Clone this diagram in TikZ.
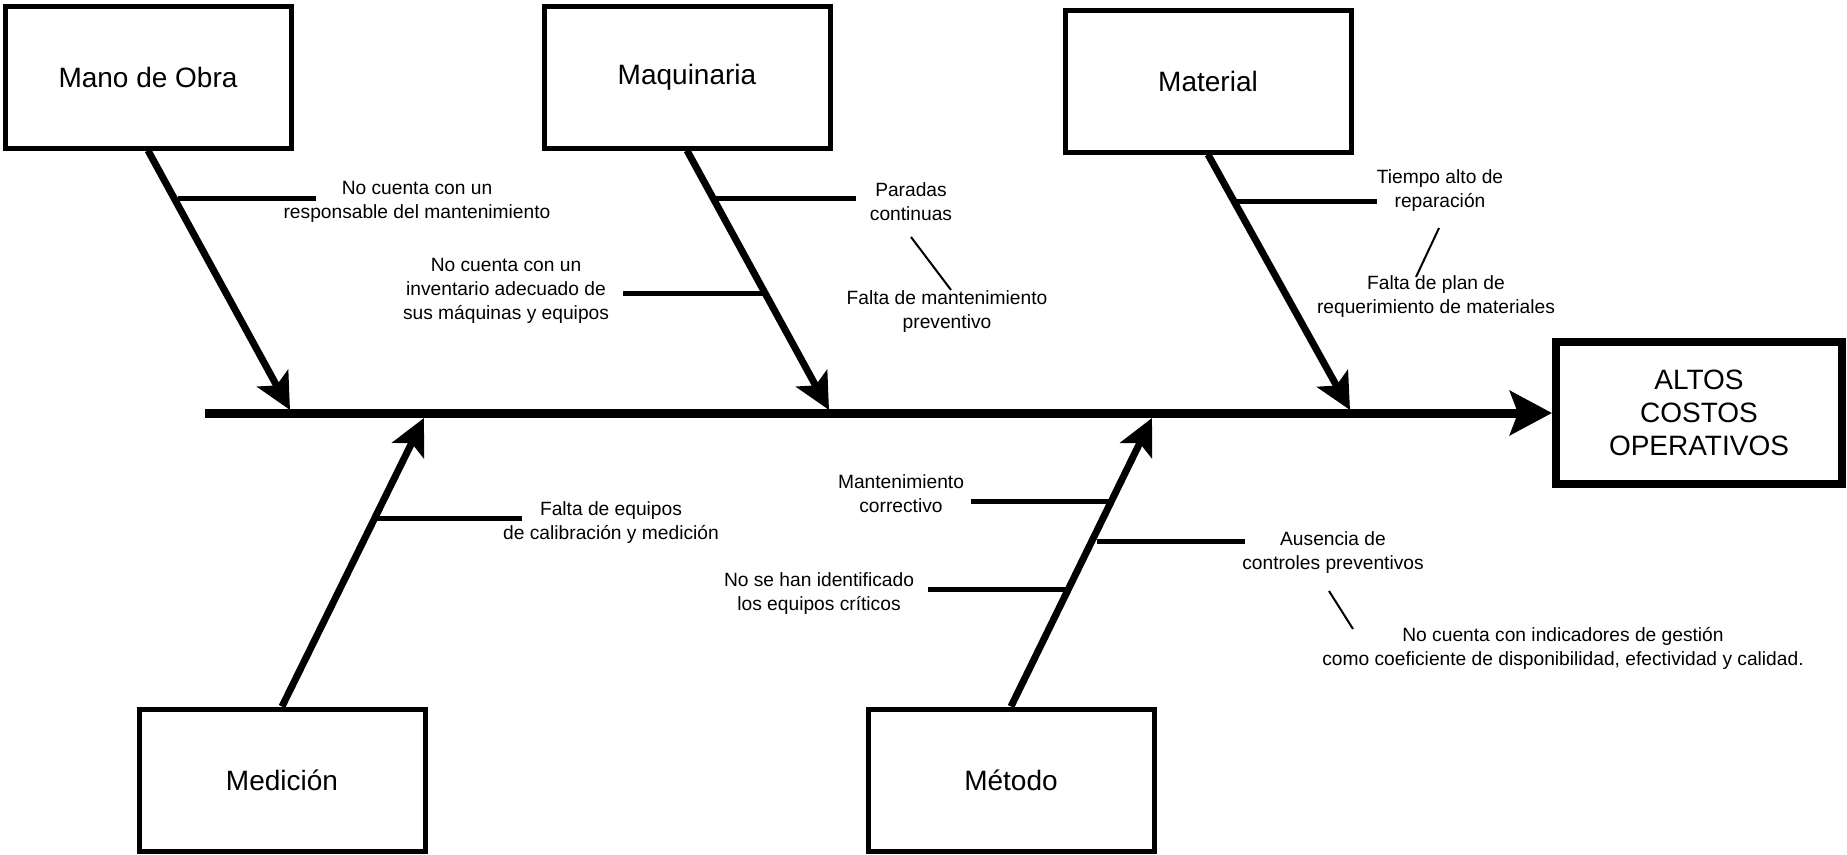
\documentclass[tikz,border=0pt]{standalone}
\usepackage{fontspec}
\setmainfont{Liberation Sans}
\usetikzlibrary{arrows.meta}
\begin{document}
\begin{tikzpicture}[x=1pt,y=-1pt,
  catbox/.style={draw,line width=5pt,minimum width=286pt,minimum height=142pt,inner sep=0pt,align=center,font=\fontsize{28}{34}\selectfont},
  effbox/.style={draw,line width=8pt,minimum width=286pt,minimum height=142pt,inner sep=0pt,align=center,font=\fontsize{28}{33}\selectfont},
  lbl/.style={inner sep=0pt,align=center,font=\fontsize{19.2}{24}\selectfont},
  spine/.style={line width=9pt,-{Stealth[length=42pt,width=44pt,inset=8pt]}},
  limb/.style={line width=7pt,-{Stealth[length=36pt,width=35pt,inset=8pt]}},
  twig/.style={line width=5pt},
  hair/.style={line width=2pt}
]
\useasboundingbox (0,0) rectangle (1847,854);
% boxes
\node[catbox] (mano) at (148,77) {Mano de Obra};
\node[catbox] (maq) at (687,77) {Maquinaria};
\node[catbox] (mat) at (1208,81) {Material};
\node[catbox] (med) at (282,780) {Medición};
\node[catbox] (met) at (1011,780) {Método};
\node[effbox] (altos) at (1699,413) {ALTOS\\COSTOS\\OPERATIVOS};
% spine
\coordinate (s0) at (205,413);
\draw[spine] (s0) -- (altos.west);
% limb tips
\coordinate (m1) at (290,410);
\coordinate (m2) at (829,410);
\coordinate (m3) at (1350,410);
\coordinate (m4) at (424,418);
\coordinate (m5) at (1152,418);
\draw[limb] (mano.south) -- (m1);
\draw[limb] (maq.south) -- (m2);
\draw[limb] (mat.south) -- (m3);
\draw[limb] (med.north) -- (m4);
\draw[limb] (met.north) -- (m5);
% labels
\node[lbl] (t1) at (417,202) {No cuenta con un\\responsable del mantenimiento};
\node[lbl] (t2) at (506,291) {No cuenta con un\\inventario adecuado de\\sus máquinas y equipos};
\node[lbl] (t3) at (911,202) {Paradas\\continuas};
\node[lbl] (t4) at (947,312) {Falta de mantenimiento\\preventivo};
\node[lbl] (t5) at (1440,191) {Tiempo alto de\\reparación};
\node[lbl] (t6) at (1436,297) {Falta de plan de\\requerimiento de materiales};
\node[lbl] (t7) at (611,523) {Falta de equipos\\de calibración y medición};
\node[lbl] (t8) at (901,494) {Mantenimiento\\correctivo};
\node[lbl] (t9) at (1333,553) {Ausencia de\\controles preventivos};
\node[lbl] (t10) at (819,594) {No se han identificado\\los equipos críticos};
\node[lbl] (t11) at (1563,648) {No cuenta con indicadores de gestión\\como coeficiente de disponibilidad, efectividad y calidad.};
% branch lines
\coordinate (b1a) at (178,198); \coordinate (b1b) at (316,198);
\coordinate (b2a) at (763,293); \coordinate (b2b) at (623,293);
\coordinate (b3a) at (716,198); \coordinate (b3b) at (856,198);
\coordinate (b4a) at (1237,201); \coordinate (b4b) at (1377,201);
\coordinate (b5a) at (377,518); \coordinate (b5b) at (522,518);
\coordinate (b6a) at (1110,501); \coordinate (b6b) at (971,501);
\coordinate (b7a) at (1097,541); \coordinate (b7b) at (1245,541);
\coordinate (b8a) at (1068,589); \coordinate (b8b) at (928,589);
\draw[twig] (b1a) -- (b1b);
\draw[twig] (b2a) -- (b2b);
\draw[twig] (b3a) -- (b3b);
\draw[twig] (b4a) -- (b4b);
\draw[twig] (b5a) -- (b5b);
\draw[twig] (b6a) -- (b6b);
\draw[twig] (b7a) -- (b7b);
\draw[twig] (b8a) -- (b8b);
% thin links
\coordinate (h1a) at (911,237); \coordinate (h1b) at (951,290);
\coordinate (h2a) at (1439,228); \coordinate (h2b) at (1416,277);
\coordinate (h3a) at (1329,591); \coordinate (h3b) at (1353,629);
\draw[hair] (h1a) -- (h1b);
\draw[hair] (h2a) -- (h2b);
\draw[hair] (h3a) -- (h3b);
\end{tikzpicture}
\end{document}
